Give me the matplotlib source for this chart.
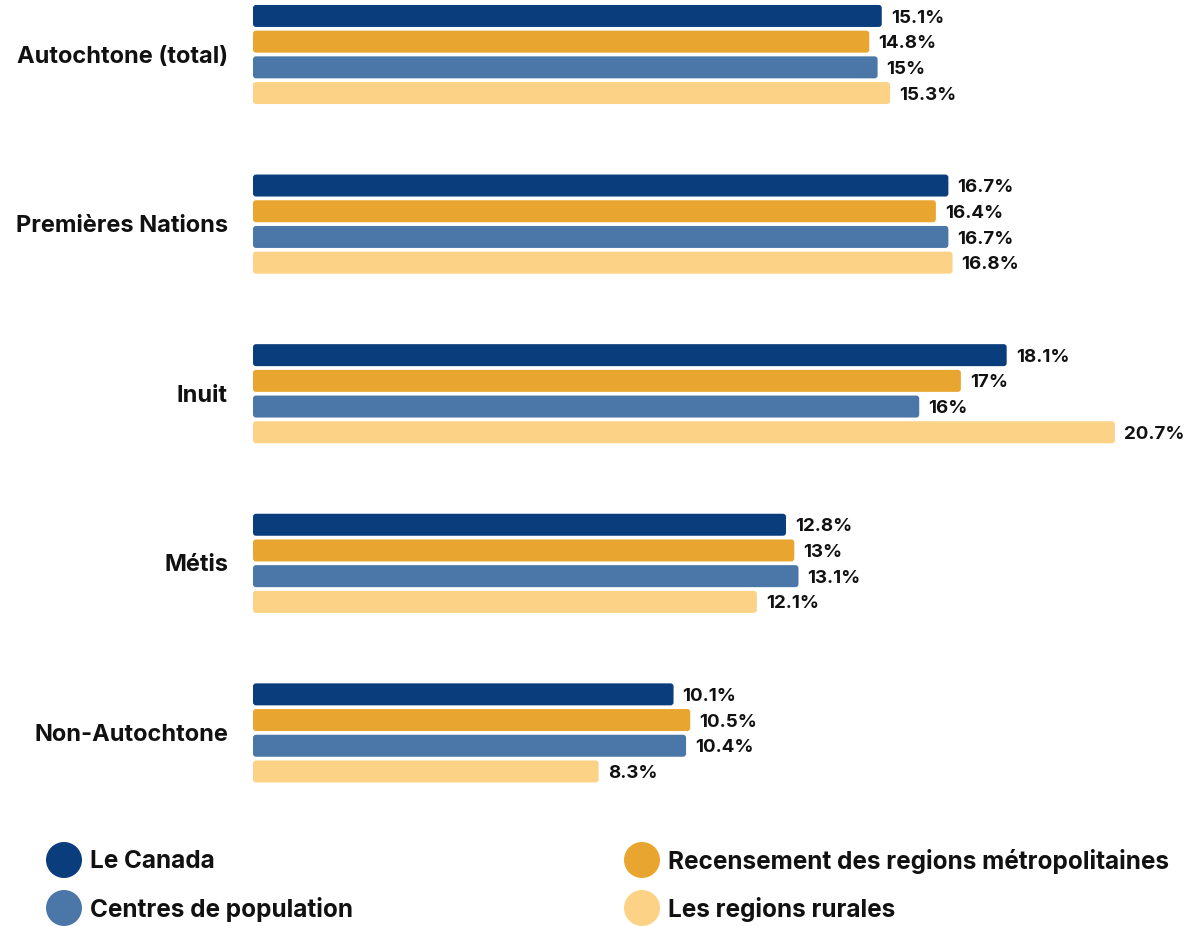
import matplotlib
matplotlib.use("Agg")
import matplotlib.pyplot as plt
from matplotlib.patches import FancyBboxPatch, Ellipse
import numpy as np

plt.rcParams['font.family'] = ['Inter', 'DejaVu Sans']

categories = ["Autochtone (total)", "Premières Nations", "Inuit", "Métis", "Non-Autochtone"]
series = ["Le Canada", "Recensement des regions métropolitaines",
          "Centres de population", "Les regions rurales"]
canada = [15.1, 16.7, 18.1, 12.8, 10.1]
metro = [14.8, 16.4, 17.0, 13.0, 10.5]
centres = [15.0, 16.7, 16.0, 13.1, 10.4]
rural = [15.3, 16.8, 20.7, 12.1, 8.3]
value_labels = [
    ["15.1%", "16.7%", "18.1%", "12.8%", "10.1%"],
    ["14.8%", "16.4%", "17%", "13%", "10.5%"],
    ["15%", "16.7%", "16%", "13.1%", "10.4%"],
    ["15.3%", "16.8%", "20.7%", "12.1%", "8.3%"],
]
colors = ["#0a3d7c", "#e8a630", "#4a77a8", "#fcd386"]
text_color = "#111111"

W, H = 1189, 926
fig = plt.figure(figsize=(W / 100, H / 100), dpi=100)

# main bar axes (pixel geometry)
ax_left, ax_right, ax_top, ax_bottom = 253, 1189, 0, 800
ax = fig.add_axes([ax_left / W, 1 - ax_bottom / H, (ax_right - ax_left) / W,
                   (ax_bottom - ax_top) / H])
px_per_x = 41.64
px_per_y = 169.6
ax.set_xlim(0, (ax_right - ax_left) / px_per_x)
ax.set_ylim((ax_bottom - 54.5) / px_per_y, -54.5 / px_per_y)
ax.axis("off")

pitch = 25.7 / px_per_y
bar_h = 22 / px_per_y
offsets = (np.arange(4) - 1.5) * pitch
y = np.arange(len(categories))

for i, vals in enumerate([canada, metro, centres, rural]):
    bars = ax.barh(y + offsets[i], vals, height=bar_h, color=colors[i])
    for b, lab in zip(bars, value_labels[i]):
        b.set_visible(False)
        fb = FancyBboxPatch((b.get_x(), b.get_y()), b.get_width(), b.get_height(),
                            boxstyle="round,pad=0,rounding_size=%f" % (3 / px_per_x),
                            mutation_aspect=px_per_x / px_per_y,
                            facecolor=colors[i], edgecolor="none")
        ax.add_patch(fb)
        ax.annotate(lab, (b.get_width(), b.get_y() + b.get_height() / 2),
                    xytext=(6.5, -1.5), textcoords="offset points",
                    va="center", ha="left", fontsize=13.5, fontweight="bold",
                    color=text_color)

for yi, cat in zip(y, categories):
    ax.annotate(cat, (0, yi), xytext=(-18, -1.5), textcoords="offset points",
                ha="right", va="center", fontsize=17, fontweight="bold",
                color=text_color, annotation_clip=False)

# legend row
lx = [64, 642]
ly = [860, 908]
for i, name in enumerate(series):
    cx = lx[i % 2]
    cy = ly[i // 2]
    fig.patches.append(Ellipse((cx / W, 1 - cy / H), 36 / W, 36 / H,
                               transform=fig.transFigure, facecolor=colors[i],
                               edgecolor="none"))
    fig.text((cx + 26) / W, 1 - (cy + 1.5) / H, name, ha="left", va="center",
             fontsize=17.5, fontweight="bold", color=text_color)

fig.savefig("out.png", dpi=100, facecolor="white")
